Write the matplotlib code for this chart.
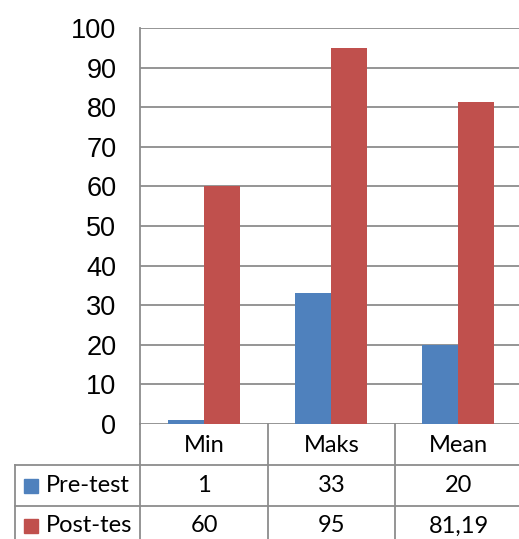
import matplotlib
matplotlib.use("Agg")
import matplotlib.pyplot as plt
from matplotlib.lines import Line2D
from matplotlib.patches import Rectangle

categories = ["Min", "Maks", "Mean"]
series_names = ["Pre-test", "Post-tes"]
pre_test = [1, 33, 20]
post_test = [60, 95, 81.19]
table_pre = ["1", "33", "20"]
table_post = ["60", "95", "81,19"]
yticks = [0, 10, 20, 30, 40, 50, 60, 70, 80, 90, 100]

BLUE = "#4F81BD"
RED = "#C0504D"
GRID = "#8C8C8C"

W, H = 519, 539
fig = plt.figure(figsize=(W / 100, H / 100), dpi=100)

def fx(px):
    return px / W

def fy(py):
    return 1 - py / H

x_left, x_right = 140, 521
y_top, y_bot = 28, 424
ax = fig.add_axes([fx(x_left), fy(y_bot), fx(x_right) - fx(x_left), fy(y_top) - fy(y_bot)])
ax.set_xlim(-0.5, 2.5)
ax.set_ylim(0, 100)

w = 36 / 127
xs = list(range(len(categories)))
ax.bar([x - w / 2 for x in xs], pre_test, width=w, color=BLUE, zorder=3)
ax.bar([x + w / 2 for x in xs], post_test, width=w, color=RED, zorder=3)

ax.set_yticks(yticks)
ax.set_yticklabels([str(t) for t in yticks], fontsize=19.5, family="Liberation Sans")
ax.tick_params(axis="y", length=0, pad=17)
ax.set_xticks([])
for yv in yticks:
    ax.axhline(yv, color=GRID, lw=1.3, zorder=1)
for s in ["top", "right", "bottom"]:
    ax.spines[s].set_visible(False)
ax.spines["left"].set_color(GRID)
ax.spines["left"].set_linewidth(1.3)
ax.set_facecolor("none")

# data table lines
col_edges = [140, 268, 395, 522]
row_edges = [424, 465, 506, 560]
def hline(y, x0, x1):
    fig.add_artist(Line2D([fx(x0), fx(x1)], [fy(y), fy(y)], color=GRID, lw=1.3))
def vline(x, y0, y1):
    fig.add_artist(Line2D([fx(x), fx(x)], [fy(y0), fy(y1)], color=GRID, lw=1.3))

hline(row_edges[1], 15, 522)
hline(row_edges[2], 15, 522)
for xe in col_edges:
    vline(xe, row_edges[0], 545)
vline(15, row_edges[1], 545)

tfont = dict(family="Lato", fontsize=17, color="black", ha="center", va="center")
for i, c in enumerate(categories):
    cx = (col_edges[i] + col_edges[i + 1]) / 2
    fig.text(fx(cx), fy(445), c, **tfont)
    fig.text(fx(cx), fy(486), table_pre[i], **tfont)
    fig.text(fx(cx), fy(526), table_post[i], **tfont)

for j, (name, col) in enumerate(zip(series_names, [BLUE, RED])):
    ycen = [486, 526][j]
    fig.add_artist(Rectangle((fx(24), fy(ycen + 7)), fx(14), fy(ycen - 7) - fy(ycen + 7), color=col))
    fig.text(fx(46), fy(ycen), name, family="Lato", fontsize=17, ha="left", va="center")

fig.savefig("out.png", dpi=100)
